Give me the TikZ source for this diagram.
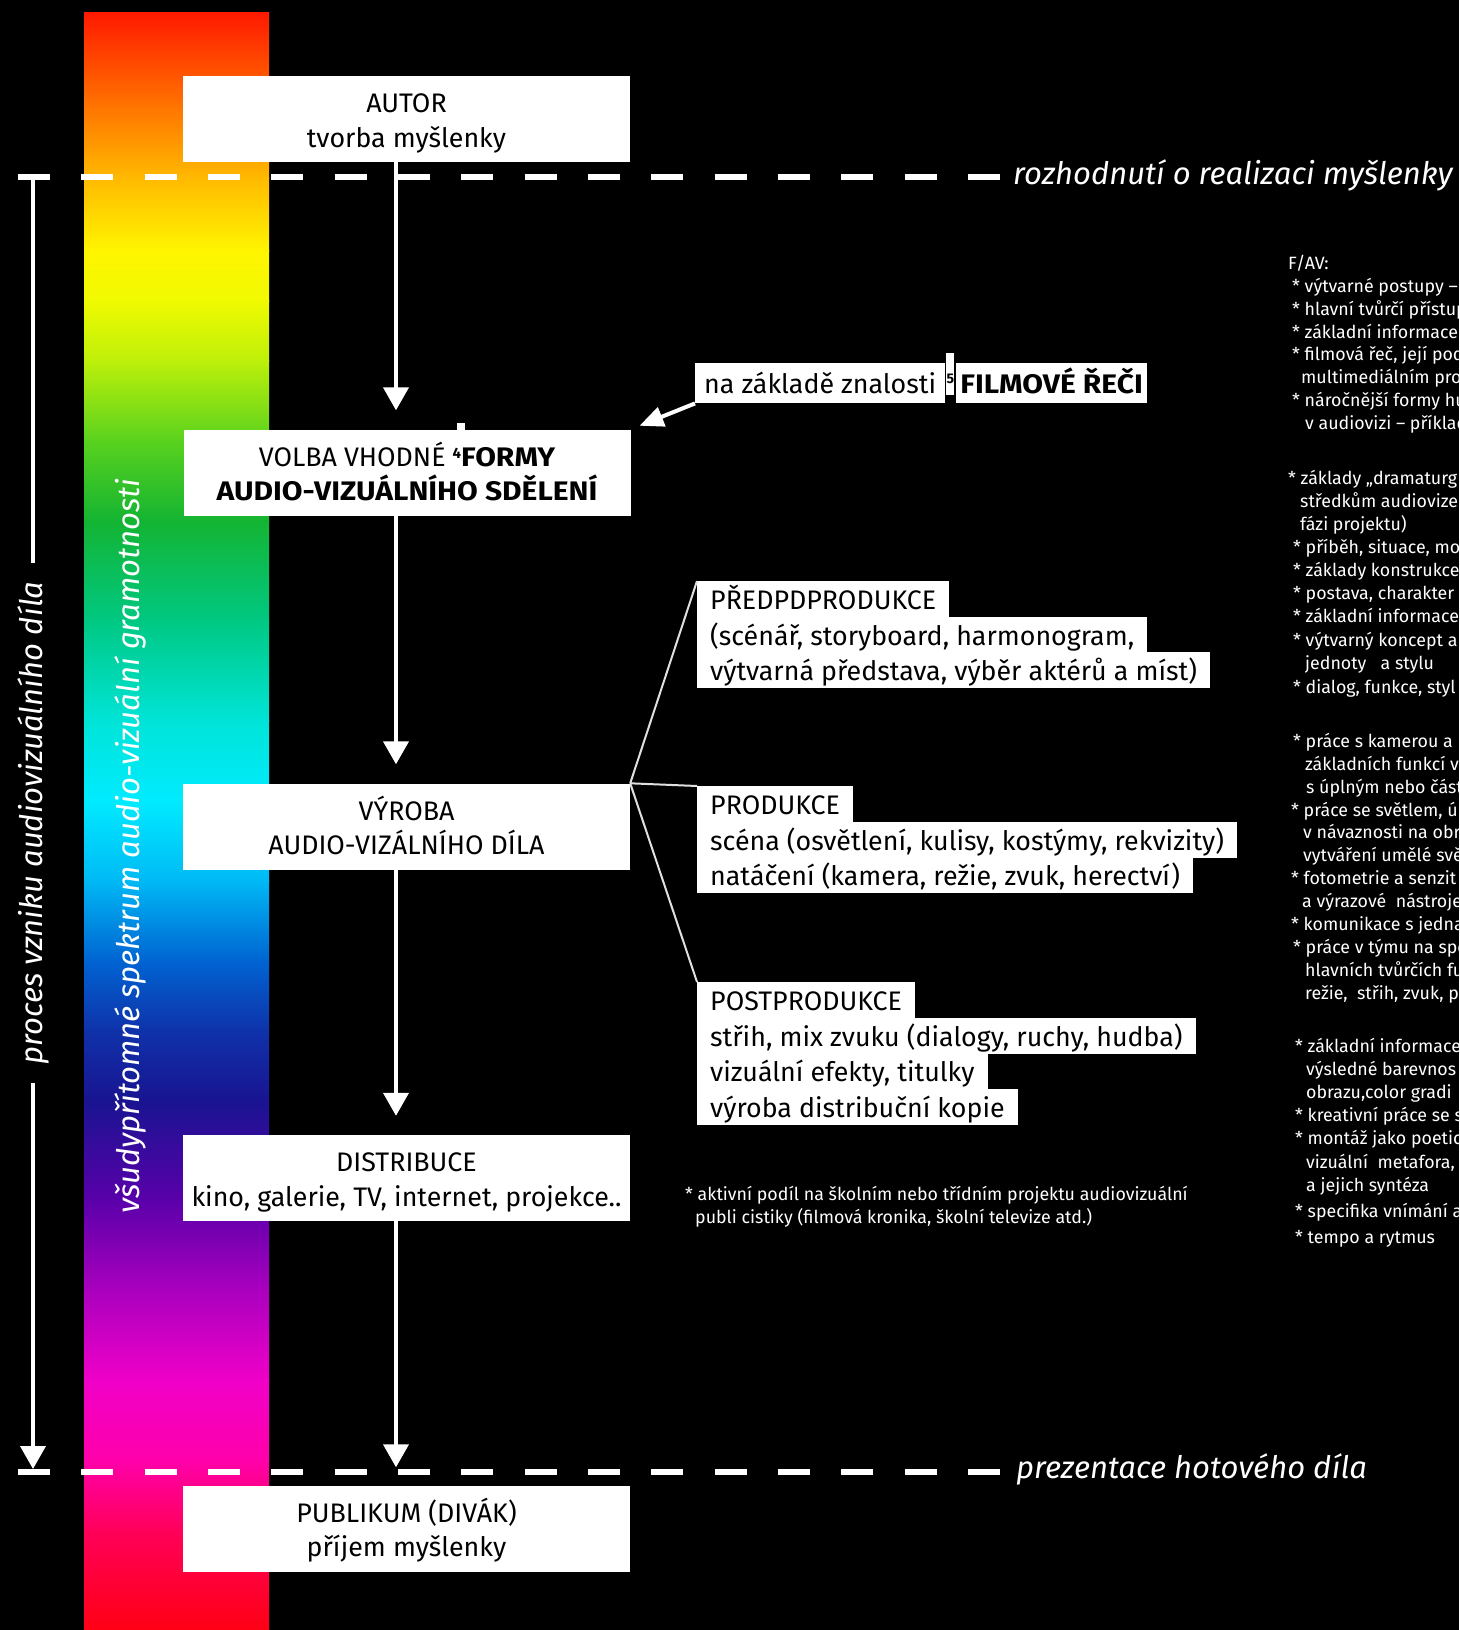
\documentclass[tikz,border=0pt]{standalone}
\usepackage{fontspec}
\setmainfont{Fira Sans}
\usetikzlibrary{arrows.meta,calc}
\definecolor{sa}{RGB}{255,25,0}
\definecolor{sb}{RGB}{255,110,0}
\definecolor{sc}{RGB}{255,185,0}
\definecolor{sd}{RGB}{255,245,0}
\definecolor{se}{RGB}{240,250,0}
\definecolor{sf}{RGB}{190,240,10}
\definecolor{sg}{RGB}{90,210,30}
\definecolor{sh}{RGB}{20,180,50}
\definecolor{si}{RGB}{0,200,130}
\definecolor{sj}{RGB}{0,228,215}
\definecolor{sk}{RGB}{0,235,255}
\definecolor{sl}{RGB}{0,185,245}
\definecolor{sm}{RGB}{0,100,210}
\definecolor{sn}{RGB}{15,50,170}
\definecolor{so}{RGB}{25,20,145}
\definecolor{sp}{RGB}{90,0,170}
\definecolor{sq}{RGB}{170,0,190}
\definecolor{sr}{RGB}{240,0,200}
\definecolor{ss}{RGB}{255,0,170}
\definecolor{st}{RGB}{255,0,90}
\definecolor{su}{RGB}{255,0,20}
\newcommand\fnmark[1]{{\fontsize{15}{15}\selectfont\bfseries\raisebox{8pt}{#1}}}
\newcommand\wbold[1]{\scalebox{1.12}[1]{\bfseries #1}}
\begin{document}
\begin{tikzpicture}[x=1pt,y=-1pt,
  box/.style={fill=white, text=black, align=center, inner sep=0pt, minimum width=447pt, minimum height=86pt, text height=56pt, text depth=0pt, font=\fontsize{26.8}{34.5}\selectfont},
  linebox/.style={fill=white, text=black, anchor=north west, inner xsep=13pt, inner ysep=0pt, minimum height=36pt, text height=23pt, text depth=2pt, font=\fontsize{26.8}{30}\selectfont},
  flow/.style={draw=white, line width=4pt, -{Triangle[width=25pt,length=23pt]}},
  dashline/.style={white, line width=6pt, dash pattern=on 32pt off 31.33pt},
  rnote/.style={text=white, anchor=mid west, inner sep=0pt, font=\fontsize{17.8}{20}\selectfont},
  sidelabel/.style={text=white, inner sep=0pt, font=\fontsize{31}{34}\selectfont\itshape},
  branch/.style={draw=black!12, line width=2pt}
]
\fill[black] (0,0) rectangle (1459,1630);
\useasboundingbox (0,0) rectangle (1459,1630);

% spectrum bar
\foreach \ya/\yb/\ca/\cb in {12/100/sa/sb,100/177/sb/sc,177/250/sc/sd,250/300/sd/se,300/360/se/sf,360/440/sf/sg,440/520/sg/sh,520/620/sh/si,620/720/si/sj,720/800/sj/sk,800/880/sk/sl,880/960/sl/sm,960/1030/sm/sn,1030/1100/sn/so,1100/1200/so/sp,1200/1290/sp/sq,1290/1380/sq/sr,1380/1460/sr/ss,1460/1530/ss/st,1530/1630/st/su}
  \shade[top color=\ca, bottom color=\cb] (84,\ya) rectangle (269,\yb+1);
\node[sidelabel, rotate=90] (spek) at (130,846) {všudypřítomné spektrum audio-vizuální gramotnosti};

% dashed lines
\draw[dashline] (18,177) -- (1000,177);
\draw[dashline] (18,1472) -- (1000,1472);
\node[sidelabel, anchor=base west] (rozh) at (1013,184) {rozhodnutí o realizaci myšlenky};
\node[sidelabel, anchor=base west] (prez) at (1016,1478) {prezentace hotového díla};

% left process arrow
\coordinate (ltop) at (33,177);
\coordinate (lbot) at (33,1469);
\node[sidelabel, rotate=90, inner xsep=18pt] (proc) at (33,823) {proces vzniku audiovizuálního díla};
\draw[white, line width=4pt] (ltop) -- (proc.east);
\draw[flow] (proc.west) -- (lbot);

% main boxes
\node[box] (autor) at (406.5,119) {AUTOR\\tvorba myšlenky};
\node[box] (volba) at (407,472.5) {VOLBA VHODNÉ \fnmark{4}\wbold{FORMY}\\\wbold{AUDIO-VIZUÁLNÍHO SDĚLENÍ}};
\node[box] (vyroba) at (406.5,826.5) {VÝROBA\\AUDIO-VIZÁLNÍHO DÍLA};
\node[box] (distr) at (406.5,1178) {DISTRIBUCE\\kino, galerie, TV, internet, projekce..};
\node[box] (publ) at (406.5,1528.5) {PUBLIKUM (DIVÁK)\\příjem myšlenky};
\fill[white] (457,423) rectangle (465,431);

% central arrows
\coordinate (ax) at (396,0);
\draw[flow, shorten >=19pt] (ax |- autor.south) -- (ax |- volba.north);
\draw[flow, shorten >=19pt] (ax |- volba.south) -- (ax |- vyroba.north);
\draw[flow, shorten >=19pt] (ax |- vyroba.south) -- (ax |- distr.north);
\draw[flow, shorten >=18pt] (ax |- distr.south) -- (ax |- publ.north);

% film language
\node[linebox, inner xsep=9pt, minimum height=40pt, text height=24pt, text depth=3pt] (fil1) at (695,363) {na základě znalosti};
\fill[white] ($(fil1.north east)+(1,-10)$) rectangle ($(fil1.north east)+(9,32)$);
\node[text=black, inner sep=0pt, font=\fontsize{14}{14}\selectfont\bfseries] (fn5) at ($(fil1.north east)+(5,16)$) {5};
\node[linebox, inner xsep=4pt, minimum height=40pt, text height=24pt, text depth=3pt] (fil2) at ($(fil1.north east)+(11,0)$) {\wbold{FILMOVÉ ŘEČI}};
\draw[white, line width=4pt, shorten >=9.5pt, -{Triangle[width=20pt,length=24pt]}] (fil1.south west) -- (volba.north east);

% production stages
\node[linebox] (pre1) at (697,581) {PŘEDPDPRODUKCE};
\node[linebox] (pre2) at (697,616.5) {(scénář, storyboard, harmonogram,};
\node[linebox] (pre3) at (697,652) {výtvarná představa, výběr aktérů a míst)};
\node[linebox] (pro1) at (697,786) {PRODUKCE};
\node[linebox] (pro2) at (697,821.5) {scéna (osvětlení, kulisy, kostýmy, rekvizity)};
\node[linebox] (pro3) at (697,857) {natáčení (kamera, režie, zvuk, herectví)};
\node[linebox] (post1) at (697,982) {POSTPRODUKCE};
\node[linebox] (post2) at (697,1017.5) {střih, mix zvuku (dialogy, ruchy, hudba)};
\node[linebox] (post3) at (697,1053) {vizuální efekty, titulky};
\node[linebox] (post4) at (697,1088.5) {výroba distribuční kopie};
\draw[branch] (vyroba.north east) -- (pre1.north west);
\draw[branch] (vyroba.north east) -- (pro1.north west);
\draw[branch] (vyroba.north east) -- (post1.north west);

% footnote
\node[rnote] (fa) at (685,1198) {* aktivní podíl na školním nebo třídním projektu audiovizuální};
\node[rnote] (fb) at (695,1221) {publi cistiky (filmová kronika, školní televize atd.)};

% right column (clipped at the page edge, as in the original)
\begin{scope}
\clip (0,0) rectangle (1459,1630);
\node[rnote] (r1) at (1288,267) {F/AV:};
\node[rnote] (r2) at (1292,290) {* výtvarné postupy –};
\node[rnote] (r3) at (1292,313) {* hlavní tvůrčí přístup};
\node[rnote] (r4) at (1292,336) {* základní informace};
\node[rnote] (r5) at (1292,358) {* filmová řeč, její pod};
\node[rnote] (r6) at (1301,381) {multimediálním pro};
\node[rnote] (r7) at (1292,404) {* náročnější formy hu};
\node[rnote] (r8) at (1305,427) {v audiovizi – příklad};
\node[rnote] (r9) at (1288,482) {* základy „dramaturg};
\node[rnote] (r10) at (1300,505) {středkům audiovize};
\node[rnote] (r11) at (1300,528) {fázi projektu)};
\node[rnote] (r12) at (1293,551) {* příběh, situace, mo};
\node[rnote] (r13) at (1293,574) {* základy konstrukce};
\node[rnote] (r14) at (1293,597) {* postava, charakter};
\node[rnote] (r15) at (1293,620) {* základní informace};
\node[rnote] (r16) at (1293,644) {* výtvarný koncept a};
\node[rnote] (r17) at (1305,667) {jednoty\ \ \ a stylu};
\node[rnote] (r18) at (1293,691) {* dialog, funkce, styl};
\node[rnote] (r19) at (1293,745) {* práce s kamerou a};
\node[rnote] (r20) at (1305,768) {základních funkcí v};
\node[rnote] (r21) at (1306,791) {s úplným nebo část};
\node[rnote] (r22) at (1291,814) {* práce se světlem, ú};
\node[rnote] (r23) at (1303,836) {v návaznosti na obr};
\node[rnote] (r24) at (1303,859) {vytváření umělé svě};
\node[rnote] (r25) at (1291,882) {* fotometrie a senzit};
\node[rnote] (r26) at (1302,905) {a výrazové\ \ nástroje};
\node[rnote] (r27) at (1291,928) {* komunikace s jedna};
\node[rnote] (r28) at (1293,951) {* práce v týmu na spe};
\node[rnote] (r29) at (1305,974) {hlavních tvůrčích fu};
\node[rnote] (r30) at (1305,997) {režie,\ \ střih, zvuk, p};
\node[rnote] (r31) at (1295,1050) {* základní informace};
\node[rnote] (r32) at (1306,1073) {výsledné barevnos};
\node[rnote] (r33) at (1306,1096) {obrazu,color gradi};
\node[rnote] (r34) at (1295,1119) {* kreativní práce se s};
\node[rnote] (r35) at (1295,1142) {* montáž jako poetic};
\node[rnote] (r36) at (1306,1166) {vizuální\ \ metafora,};
\node[rnote] (r37) at (1306,1189) {a jejich syntéza};
\node[rnote] (r38) at (1295,1215) {* specifika vnímání a};
\node[rnote] (r39) at (1295,1241) {* tempo a rytmus};
\end{scope}
\end{tikzpicture}
\end{document}
